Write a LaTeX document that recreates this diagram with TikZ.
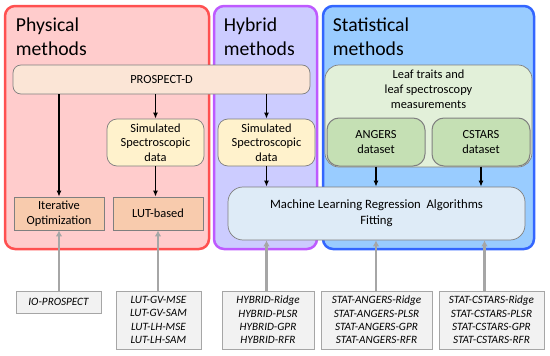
\documentclass[tikz,border=0pt]{standalone}
\usepackage{fontspec}
\setmainfont{Carlito}
\usetikzlibrary{arrows.meta, positioning}
\definecolor{physred}{RGB}{255,80,80}
\definecolor{physfill}{RGB}{255,204,204}
\definecolor{hybpurple}{RGB}{190,90,255}
\definecolor{hybfill}{RGB}{204,204,255}
\definecolor{statblue}{RGB}{51,102,255}
\definecolor{statfill}{RGB}{153,204,255}
\definecolor{prospfill}{RGB}{251,229,214}
\definecolor{simfill}{RGB}{255,242,204}
\definecolor{leaffill}{RGB}{226,240,217}
\definecolor{setfill}{RGB}{197,224,180}
\definecolor{mlfill}{RGB}{222,235,247}
\definecolor{invfill}{RGB}{248,203,173}
\definecolor{listfill}{RGB}{242,242,242}
\definecolor{boxgray}{RGB}{127,127,127}
\definecolor{arrowgray}{RGB}{166,166,166}

\begin{document}
\begin{tikzpicture}[x=1pt, y=-1pt,
  panel/.style={rectangle, rounded corners=10pt, line width=2.5pt, minimum height=243pt, inner sep=0pt},
  title/.style={align=left, inner sep=0pt, font=\fontsize{19.7}{24}\selectfont},
  softbox/.style={rectangle, rounded corners=10pt, draw=boxgray, line width=0.7pt, align=center,
              inner sep=0pt, font=\fontsize{12.4}{14.5}\selectfont},
  invbox/.style={rectangle, draw=boxgray, fill=invfill, line width=0.7pt, align=center,
              minimum width=90pt, minimum height=33pt, inner sep=0pt, font=\fontsize{12.4}{14.5}\selectfont},
  listbox/.style={rectangle, draw=arrowgray, fill=listfill, line width=1pt, align=center,
              inner sep=0pt, font=\fontsize{11.2}{13.3}\selectfont\itshape},
  arrow/.style={-{Latex[length=6pt, width=5pt]}, line width=1.4pt},
  garrow/.style={-{Latex[length=6pt, width=6.5pt]}, line width=2.2pt, arrowgray}
]
\useasboundingbox (0,0) rectangle (550,356);

% method panels
\node[panel, draw=physred, fill=physfill, minimum width=204pt] (phys) at (107,127.5) {};
\node[panel, draw=hybpurple, fill=hybfill, minimum width=103pt] (hyb) at (265.5,127.5) {};
\node[panel, draw=statblue, fill=statfill, minimum width=211pt] (stat) at (428.5,127.5) {};

\node[title, below right=13pt and 12pt of phys.north west] (physt) {Physical\\methods};
\node[title, below right=13pt and 11pt of hyb.north west]  (hybt)  {Hybrid\\methods};
\node[title, below right=13pt and 11pt of stat.north west] (statt) {Statistical\\methods};

% model and data boxes
\node[softbox, rounded corners=8pt, fill=prospfill, minimum width=297pt, minimum height=29pt] (prosp) at (161.5,79.5) {PROSPECT-D};
\node[softbox, fill=simfill, minimum width=97pt, minimum height=47pt] (simp) at (155.5,142.5) {Simulated\\Spectroscopic\\data};
\node[softbox, fill=simfill, minimum width=97pt, minimum height=47pt] (simh) at (266.5,142.5) {Simulated\\Spectroscopic\\data};

\node[softbox, rounded corners=14pt, fill=leaffill, minimum width=207pt, minimum height=102pt] (leaf) at (428.5,116) {};
\node[align=center, inner sep=0pt, font=\fontsize{12.4}{15}\selectfont, below=5pt of leaf.north] (leaft)
  {Leaf traits and\\leaf spectroscopy\\measurements};
\node[softbox, draw=gray, line width=1pt, rounded corners=12pt, fill=setfill, minimum width=98pt, minimum height=48pt] (angers) at (376,142) {ANGERS\\dataset};
\node[softbox, draw=gray, line width=1pt, rounded corners=12pt, fill=setfill, minimum width=98pt, minimum height=48pt] (cstars) at (481,142) {CSTARS\\dataset};

\node[invbox] (iter) at (59,213.5) {Iterative\\Optimization};
\node[invbox] (lut)  at (158,213.5) {LUT-based};
\node[softbox, rounded corners=15pt, fill=mlfill, minimum width=297pt, minimum height=53pt,
      font=\fontsize{12.7}{16}\selectfont] (ml) at (376.5,213.5) {Machine Learning Regression\ \ Algorithms\\Fitting};

% method lists
\node[listbox, minimum width=85pt, minimum height=22pt] (iol) at (58.5,302) {IO-PROSPECT};
\node[listbox, minimum width=85pt, minimum height=58pt] (lutl) at (158.5,320) {LUT-GV-MSE\\LUT-GV-SAM\\LUT-LH-MSE\\LUT-LH-SAM};
\node[listbox, minimum width=92pt, minimum height=58pt] (hybl) at (268,320) {HYBRID-Ridge\\HYBRID-PLSR\\HYBRID-GPR\\HYBRID-RFR};
\node[listbox, minimum width=111pt, minimum height=58pt] (angl) at (376.5,320) {STAT-ANGERS-Ridge\\STAT-ANGERS-PLSR\\STAT-ANGERS-GPR\\STAT-ANGERS-RFR};
\node[listbox, minimum width=105pt, minimum height=58pt] (cstl) at (491.5,320) {STAT-CSTARS-Ridge\\STAT-CSTARS-PLSR\\STAT-CSTARS-GPR\\STAT-CSTARS-RFR};

% data flow
\draw[arrow] (iter.north |- prosp.south) -- (iter.north);
\draw[arrow] (simp.north |- prosp.south) -- (simp.north);
\draw[arrow] (simh.north |- prosp.south) -- (simh.north);
\draw[arrow] (simp.south) -- (simp.south |- lut.north);
\draw[arrow] (simh.south) -- (simh.south |- ml.north);
\draw[arrow] (angers.south) -- (angers.south |- ml.north);
\draw[arrow] (cstars.south) -- (cstars.south |- ml.north);

% method names
\draw[garrow] (iol.north -| iter) -- (iter.south);
\draw[garrow] (lutl.north -| lut) -- (lut.south);
\draw[garrow] (hybl.north -| simh) -- (simh |- ml.south);
\draw[garrow] (angl.north -| angers) -- (angers |- ml.south);
\draw[garrow] ([xshift=-7pt]cstl.north) -- ([xshift=-7pt]cstl.north |- ml.south);
\end{tikzpicture}
\end{document}
